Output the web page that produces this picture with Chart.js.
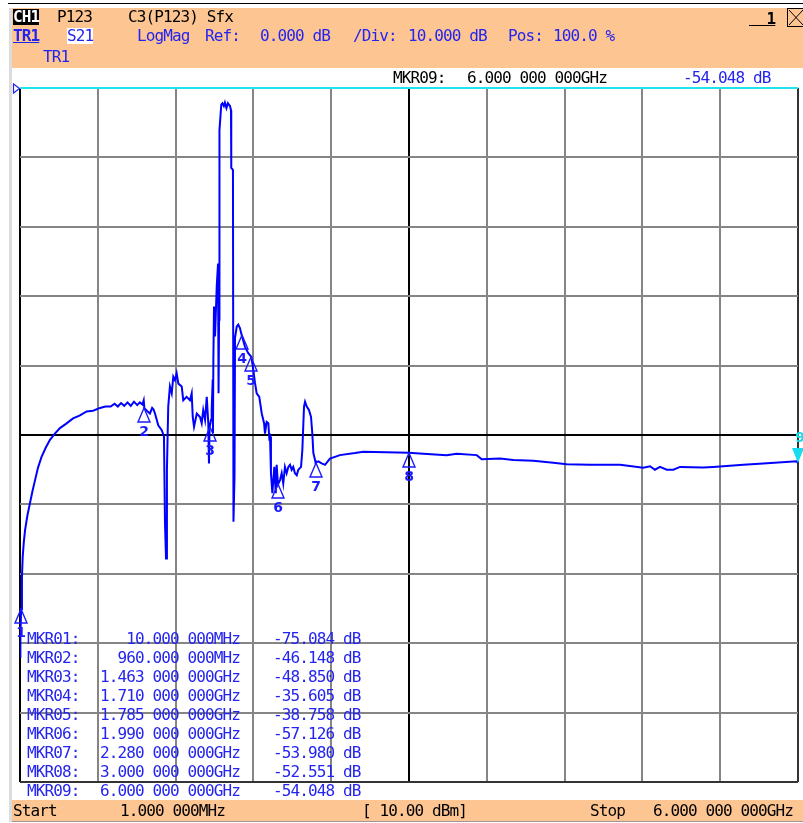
<!DOCTYPE html>
<html>
<head>
<meta charset="utf-8">
<script src="https://cdn.jsdelivr.net/npm/chart.js@4/dist/chart.umd.min.js"></script>
<style>
html,body{margin:0;padding:0;background:#fff;width:803px;height:823px;overflow:hidden;}
#wrap{position:relative;width:803px;height:823px;}
canvas{position:absolute;left:0;top:0;}
.band{position:absolute;background:#FCC592;}
.t{position:absolute;font-family:'DejaVu Sans Mono',monospace;font-size:16px;line-height:16px;letter-spacing:-0.88px;white-space:pre;color:#000;}
.b{color:#2424F0;}
</style>
</head>
<body>
<div id="wrap">
  <div style="position:absolute;left:8px;top:3px;width:795px;height:1px;background:#000"></div>
  <div style="position:absolute;left:9px;top:8px;width:3px;height:814px;background:#dcdcdc"></div>
  <div class="band" style="left:12px;top:8px;width:791px;height:60px"></div>
  <div class="band" style="left:12px;top:800px;width:791px;height:21px;border-bottom:1px solid #999"></div>
  <canvas id="c" width="803" height="823"></canvas>

  <div class="t" style="left:13px;top:9px;background:#000;color:#fff;font-weight:bold">CH1</div>
  <div class="t" style="left:57px;top:9px">P123</div>
  <div class="t" style="left:128px;top:9px">C3(P123) Sfx</div>
  <div class="t" style="left:749px;top:11px;font-weight:bold;text-decoration:underline">  1</div>

  <div class="t b" style="left:13px;top:28px;font-weight:bold;text-decoration:underline">TR1</div>
  <div class="t b" style="left:67px;top:28px;background:#fff">S21</div>
  <div class="t b" style="left:137px;top:28px">LogMag</div>
  <div class="t b" style="left:205px;top:28px">Ref:</div>
  <div class="t b" style="left:260px;top:28px">0.000 dB</div>
  <div class="t b" style="left:353px;top:28px">/Div:</div>
  <div class="t b" style="left:408px;top:28px">10.000 dB</div>
  <div class="t b" style="left:508px;top:28px">Pos:</div>
  <div class="t b" style="left:553px;top:28px">100.0 %</div>
  <div class="t b" style="left:43px;top:49px">TR1</div>

  <div class="t" id="actName" style="left:393px;top:70px"></div>
  <div class="t" id="actFreq" style="left:467px;top:70px"></div>
  <div class="t b" id="actVal" style="left:683px;top:70px"></div>

  <div class="t" style="left:13px;top:803px">Start</div>
  <div class="t" id="startTxt" style="left:120px;top:803px"></div>
  <div class="t" style="left:362px;top:803px">[ 10.00 dBm]</div>
  <div class="t" style="left:590px;top:803px">Stop</div>
  <div class="t" id="stopTxt" style="left:653px;top:803px"></div>
</div>
<script>
// ---- sweep settings ----
const startGHz = 0.001;
const stopGHz = 6.0;
const refDb = 0;
const divDb = 10;
const nDiv = 10;

// ---- S21 trace (GHz, dB) ----
const freqGHz = [
 0.001,0.004,0.010,0.016,0.022,0.030,0.040,0.058,0.078,0.097,
 0.117,0.140,0.168,0.200,0.232,0.270,0.309,0.355,0.410,0.460,
 0.515,0.565,0.618,0.660,0.700,0.730,0.755,0.780,0.805,0.830,
 0.855,0.880,0.905,0.925,0.945,0.955,0.960,0.985,1.003,1.020,
 1.030,1.042,1.067,1.094,1.111,1.119,1.127,1.134,1.144,1.157,
 1.171,1.183,1.196,1.209,1.222,1.248,1.260,1.286,1.312,1.325,
 1.333,1.343,1.364,1.389,1.402,1.414,1.428,1.441,1.453,1.458,
 1.463,1.474,1.479,1.487,1.489,1.492,1.497,1.505,1.518,1.528,
 1.532,1.536,1.539,1.553,1.562,1.573,1.581,1.593,1.604,1.620,
 1.628,1.630,1.643,1.647,1.655,1.659,1.672,1.684,1.697,1.710,
 1.736,1.761,1.785,1.800,1.813,1.826,1.846,1.865,1.883,1.890,
 1.903,1.916,1.923,1.929,1.936,1.947,1.962,1.973,1.980,1.990,
 2.006,2.019,2.031,2.044,2.057,2.070,2.083,2.096,2.108,2.121,
 2.135,2.147,2.168,2.178,2.191,2.199,2.212,2.229,2.245,2.255,
 2.263,2.276,2.280,2.301,2.327,2.353,2.391,2.468,2.584,2.648,
 3.000,3.111,3.291,3.368,3.523,3.561,3.702,3.805,3.959,4.113,
 4.217,4.396,4.628,4.807,4.859,4.897,4.936,4.988,5.039,5.090,
 5.268,5.347,5.578,5.732,5.990,6.000
];
const s21dB = [
 -82.0,-79.0,-75.08,-70.5,-67.5,-65.5,-63.7,-61.6,-59.8,-58.1,
 -56.5,-54.7,-53.1,-51.8,-50.7,-49.8,-49.0,-48.4,-47.6,-47.2,
 -46.6,-46.5,-46.1,-45.9,-45.9,-45.5,-45.9,-45.4,-45.8,-45.3,
 -45.8,-45.2,-45.7,-45.3,-45.6,-45.0,-46.15,-46.6,-46.9,-46.1,
 -46.3,-46.9,-48.6,-49.3,-50.2,-62.7,-67.8,-55.0,-45.9,-43.0,
 -44.0,-41.6,-42.1,-41.1,-42.6,-43.0,-45.0,-44.5,-45.0,-44.0,
 -47.4,-48.8,-46.9,-47.4,-48.3,-46.4,-47.8,-44.5,-48.3,-54.1,
 -48.85,-47.8,-46.4,-42.0,-49.7,-39.2,-31.5,-35.8,-28.6,-25.3,
 -44.0,-33.4,-6.1,-2.4,-2.2,-2.6,-2.1,-2.9,-2.2,-2.6,
 -3.2,-11.5,-11.8,-62.5,-56.0,-36.0,-34.4,-34.1,-34.6,-35.605,
 -37.3,-38.2,-38.758,-40.6,-42.5,-44.0,-44.5,-46.9,-48.3,-49.8,
 -48.1,-48.3,-50.4,-50.2,-55.5,-58.4,-54.6,-58.4,-54.3,-57.126,
 -56.5,-55.5,-57.0,-54.6,-55.5,-54.6,-54.3,-55.0,-54.6,-55.5,
 -55.8,-55.0,-54.6,-52.2,-45.9,-45.2,-45.9,-46.4,-47.4,-49.8,
 -52.6,-53.6,-53.98,-53.8,-54.1,-54.3,-53.4,-52.9,-52.6,-52.4,
 -52.551,-52.7,-52.9,-52.7,-52.9,-53.5,-53.4,-53.6,-53.7,-54.0,
 -54.2,-54.3,-54.3,-54.7,-54.5,-55.0,-54.6,-55.0,-55.0,-54.6,
 -54.7,-54.6,-54.3,-54.1,-53.8,-54.048
];

// ---- markers ----
const markerNames = ['MKR01','MKR02','MKR03','MKR04','MKR05','MKR06','MKR07','MKR08','MKR09'];
const markerGHz = [0.010, 0.960, 1.463, 1.710, 1.785, 1.990, 2.280, 3.000, 6.000];
const markerDb = [-75.084, -46.148, -48.850, -35.605, -38.758, -57.126, -53.980, -52.551, -54.048];
const activeMarker = 8;

function fmtFreq(g){
  if (g < 1) {
    const s = (g*1000).toFixed(6).split('.');
    return s[0]+'.'+s[1].slice(0,3)+' '+s[1].slice(3)+'MHz';
  }
  const s = g.toFixed(9).split('.');
  return s[0]+'.'+s[1].slice(0,3)+' '+s[1].slice(3,6)+' '+s[1].slice(6)+'GHz';
}
function fmtDb(v){ return v.toFixed(3)+' dB'; }

const wrap = document.getElementById('wrap');
const CW = 8.75;
function addText(str, x, top, cls){
  const d = document.createElement('div');
  d.className = 't ' + (cls||'');
  d.style.left = x+'px'; d.style.top = top+'px';
  d.textContent = str;
  wrap.appendChild(d);
}
markerNames.forEach((n,i)=>{
  const top = 631.3 + i*18.9;
  addText(n+':', 27, top, 'b');
  const f = fmtFreq(markerGHz[i]);
  addText(f, 240 - f.length*CW, top, 'b');
  addText(fmtDb(markerDb[i]), 273, top, 'b');
});
document.getElementById('actName').textContent = markerNames[activeMarker]+':';
document.getElementById('actFreq').textContent = fmtFreq(markerGHz[activeMarker]);
document.getElementById('actVal').textContent = fmtDb(markerDb[activeMarker]);
document.getElementById('startTxt').textContent = fmtFreq(startGHz);
document.getElementById('stopTxt').textContent = fmtFreq(stopGHz);

const xGrid = [];
for (let k=0;k<=nDiv;k++) xGrid.push(startGHz + (stopGHz-startGHz)*k/nDiv);

const TRACE = '#0000FF';
const deco = {
  id:'deco',
  beforeDraw(chart){
    const c = chart.ctx, a = chart.chartArea;
    c.save(); c.fillStyle='#fff'; c.fillRect(a.left,a.top,a.right-a.left,a.bottom-a.top); c.restore();
  },
  afterDraw(chart){
    const c = chart.ctx, xs = chart.scales.x, ys = chart.scales.y, a = chart.chartArea;
    c.save();
    // reference level pointer
    c.strokeStyle = '#2424F0'; c.lineWidth = 1.2;
    c.beginPath(); c.moveTo(13.5,84); c.lineTo(13.5,93); c.lineTo(19.5,88.5); c.closePath(); c.stroke();
    // close box
    c.strokeStyle = '#000'; c.lineWidth = 1;
    c.strokeRect(787.5,8.5,18,18);
    c.beginPath(); c.moveTo(789,10); c.lineTo(803,25); c.moveTo(803,10); c.lineTo(789,25); c.stroke();
    // markers
    markerGHz.forEach((f,i)=>{
      const px = Math.round(xs.getPixelForValue(f));
      const py = Math.round(ys.getPixelForValue(markerDb[i]));
      c.font = 'bold 14px "DejaVu Sans"'; c.textAlign='center'; c.textBaseline='middle';
      if (i === activeMarker) {
        c.fillStyle = '#19DDEE';
        c.beginPath(); c.moveTo(px,py); c.lineTo(px-6,py-15); c.lineTo(px+6,py-15); c.closePath(); c.fill();
        c.fillText(String(i+1), px+2, py-25);
      } else {
        c.strokeStyle = '#1a1aff'; c.lineWidth = 1.4;
        c.beginPath(); c.moveTo(px,py); c.lineTo(px-6,py+14); c.lineTo(px+6,py+14); c.closePath(); c.stroke();
        c.fillStyle = '#1a1aff';
        c.fillText(String(i+1), px, py+24);
      }
    });
    c.restore();
  }
};

new Chart(document.getElementById('c'), {
  type:'line',
  data:{ datasets:[{
    data: freqGHz.map((f,i)=>({x:f, y:s21dB[i]})),
    borderColor: TRACE, borderWidth: 2, pointRadius: 0, tension: 0, fill:false
  }]},
  options:{
    responsive:false, animation:false, devicePixelRatio:1,
    layout:{ padding:{ left:20, right:5, top:88, bottom:41 } },
    plugins:{ legend:{display:false}, tooltip:{enabled:false} },
    scales:{
      x:{ type:'linear', min:startGHz, max:stopGHz,
          afterBuildTicks:(s)=>{ s.ticks = xGrid.map(v=>({value:v})); },
          ticks:{display:false}, border:{display:false},
          grid:{ drawTicks:false, lineWidth:2,
            color:(ctx)=>{ const i=ctx.index; if(i===0||i===5) return '#000'; if(i===nDiv) return '#333'; return '#858585'; } } },
      y:{ type:'linear', min:refDb-divDb*nDiv, max:refDb,
          ticks:{display:false, stepSize:divDb}, border:{display:false},
          grid:{ drawTicks:false, lineWidth:2,
            color:(ctx)=>{ const v=ctx.tick.value; if(v===refDb) return '#22E2EA'; if(v===-50) return '#000'; if(v===refDb-divDb*nDiv) return '#333'; return '#858585'; } } }
    }
  },
  plugins:[deco]
});
</script>
</body>
</html>
